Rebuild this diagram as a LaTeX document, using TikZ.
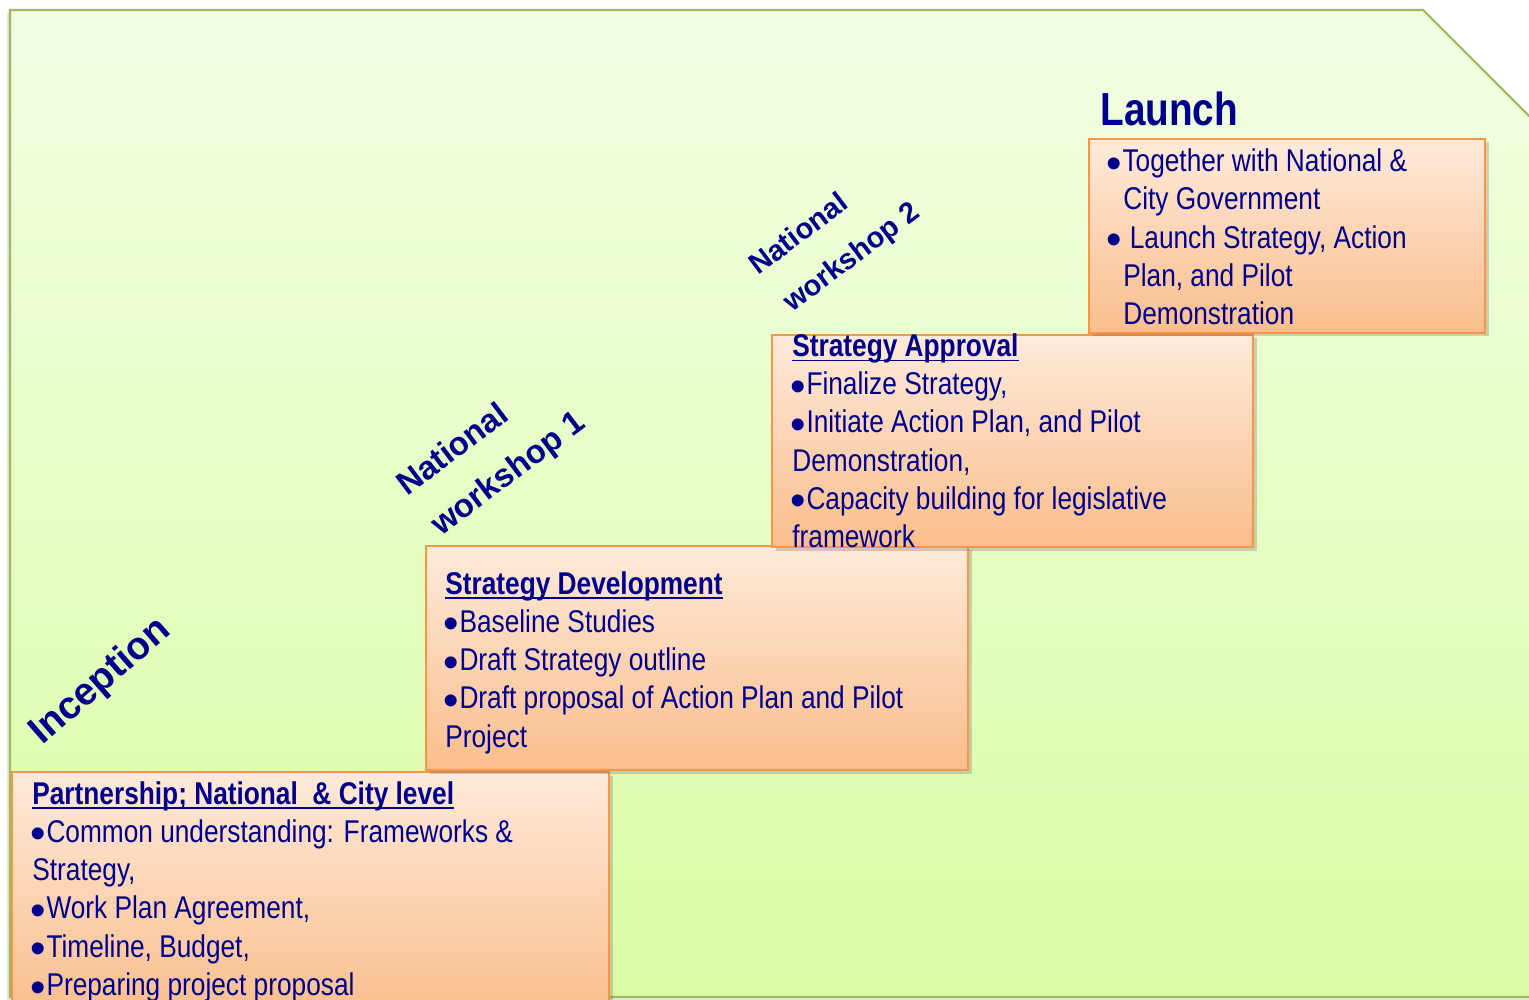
\documentclass[tikz,border=0pt]{standalone}
\usepackage{fontspec}
\setmainfont{Liberation Sans}
\newfontfamily\narrow{Liberation Sans}[FakeStretch=0.835]
\usetikzlibrary{shadows}

\definecolor{ink}{RGB}{0,0,140}
\definecolor{panelline}{RGB}{155,187,89}
\definecolor{paneltop}{RGB}{242,254,228}
\definecolor{panelbot}{RGB}{218,252,164}
\definecolor{boxline}{RGB}{247,150,70}
\definecolor{boxtop}{RGB}{253,234,218}
\definecolor{boxbot}{RGB}{250,190,140}

% round bullet, a bit bigger than the narrow one
\newcommand\bul{\makebox[0.45em][l]{\kern-0.07em\raisebox{-0.21em}{\scalebox{1.4}{\rmfamily •}}}}

\tikzset{
  stage/.style={draw=boxline, line width=1.1pt, top color=boxtop, bottom color=boxbot,
    drop shadow={shadow xshift=0.07cm, shadow yshift=-0.07cm, opacity=0.35}},
  itemtext/.style={anchor=base west, inner sep=0pt, text=ink,
    font=\narrow\fontsize{17.9}{21}\selectfont},
  boxhead/.style={itemtext, font=\narrow\bfseries\fontsize{17.9}{21}\selectfont},
  phase/.style={anchor=base west, inner sep=0pt, text=ink,
    font=\bfseries\fontsize{18.7}{22}\selectfont},
  uline/.style={ink, line width=1pt}
}

\begin{document}
\begin{tikzpicture}[x=0.02cm, y=-0.02cm]
  \useasboundingbox (0,0) rectangle (1529,1000);
  % background panel
  \draw[draw=panelline, line width=1.2pt, top color=paneltop, bottom color=panelbot,
    drop shadow={shadow xshift=-0.06cm, shadow yshift=-0.06cm, opacity=0.2}]
    (10,997) -- (10,10) -- (1423,10) -- (1529,116) -- (1545,132) -- (1545,997) -- cycle;

  % inception
  \node[phase, rotate=41, font=\bfseries\fontsize{22}{26}\selectfont] (inception) at (42,746) {Inception};
  \draw[stage] (12,772) rectangle (609,1015);
  \node[boxhead] (part) at (32,804) {Partnership; National\ \ \& City level};
  \draw[uline] ([yshift=-2.3pt]part.base west) -- ([yshift=-2.3pt]part.base east);
  \foreach \t [count=\i] in {{\bul Common understanding: Frameworks \&}, {Strategy,},
      {\bul Work Plan Agreement,}, {\bul Timeline, Budget,}, {\bul Preparing project proposal}}
    \node[itemtext] (part\i) at (32,{804+38.3*\i}) {\t};

  % national workshop 1
  \node[phase, rotate=37] (nwa) at (407,497) {National};
  \node[phase, rotate=37] (nwb) at (441,537) {workshop 1};
  \draw[stage] (426,546) rectangle (968,770);
  \node[boxhead] (dev) at (445,594) {Strategy Development};
  \draw[uline] ([yshift=-2.3pt]dev.base west) -- ([yshift=-2.3pt]dev.base east);
  \foreach \t [count=\i] in {{\bul Baseline Studies}, {\bul Draft Strategy outline},
      {\bul Draft proposal of Action Plan and Pilot}, {Project}}
    \node[itemtext] (dev\i) at (445,{594+38.3*\i}) {\t};

  % national workshop 2
  \node[phase, rotate=37, font=\bfseries\fontsize{16.5}{20}\selectfont] (nwc) at (758,276) {National};
  \node[phase, rotate=37, font=\bfseries\fontsize{16.5}{20}\selectfont] (nwd) at (792,313) {workshop 2};
  \draw[stage] (772,335) rectangle (1253,547);
  \node[boxhead] (appr) at (792,356.5) {Strategy Approval};
  \draw[uline] ([yshift=-2.3pt]appr.base west) -- ([yshift=-2.3pt]appr.base east);
  \foreach \t [count=\i] in {{\bul Finalize Strategy,}, {\bul Initiate Action Plan, and Pilot},
      {Demonstration,}, {\bul Capacity building for legislative}, {framework}}
    \node[itemtext] (appr\i) at (792,{356.5+38.2*\i}) {\t};

  % launch
  \node[phase, font=\narrow\bfseries\fontsize{26.4}{30}\selectfont] (launch) at (1100,126) {Launch};
  \draw[stage] (1089,139) rectangle (1485,333);
  \foreach \x/\t [count=\i from 0] in {{1108/\bul Together with National \&}, {1123/City Government},
      {1108/\bul\ Launch Strategy, Action}, {1123/Plan, and Pilot}, {1123/Demonstration}}
    \node[itemtext] (lau\i) at (\x,{171.7+38.3*\i}) {\t};
\end{tikzpicture}
\end{document}
